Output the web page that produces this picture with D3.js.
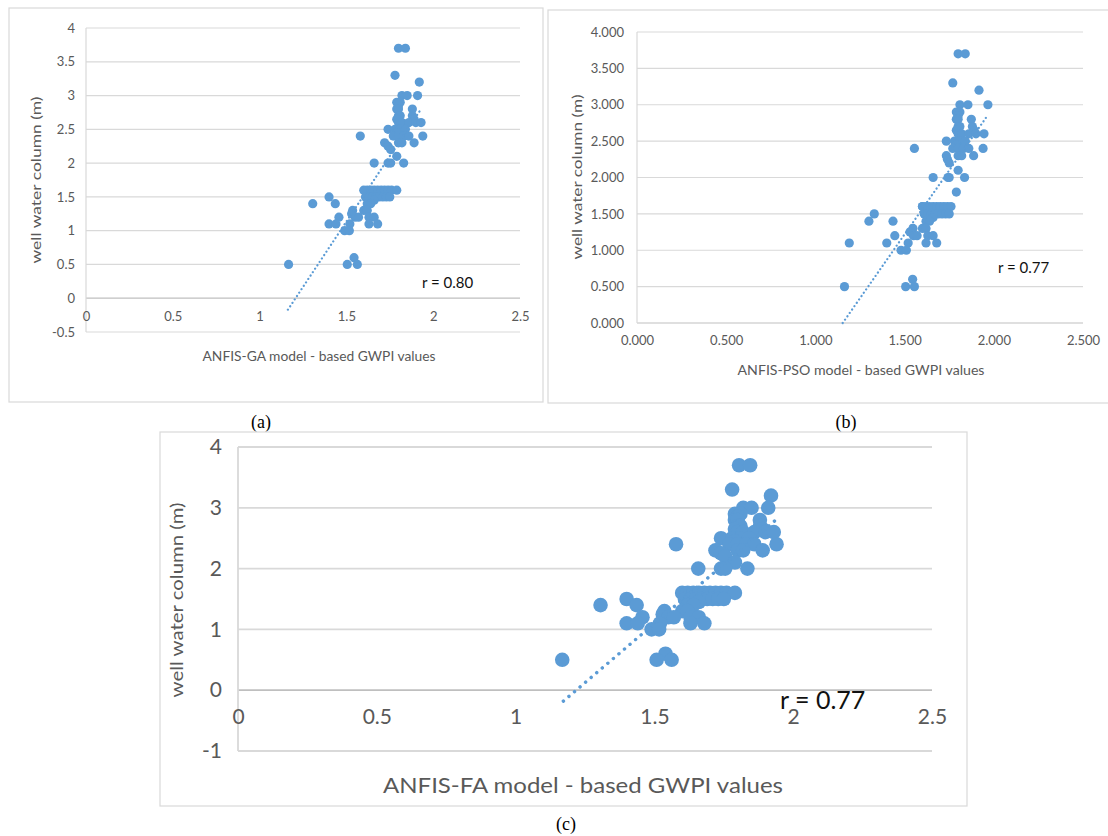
<!DOCTYPE html>
<html>
<head>
<meta charset="utf-8">
<script src="https://cdn.jsdelivr.net/npm/d3@7"></script>
<style>
  body { margin: 0; background: #fff; }
  svg text { font-family: Lato, "Open Sans", sans-serif; }
</style>
</head>
<body>
<svg id="fig" width="1108" height="836"></svg>
<script>
// GWPI value (x) vs well water column in m (y)
var gaPoints = [
  [1.80,3.7],[1.84,3.7],[1.78,3.3],[1.92,3.2],[1.82,3.0],[1.85,3.0],[1.91,3.0],
  [1.79,2.9],[1.81,2.9],[1.80,2.85],[1.79,2.8],[1.80,2.8],[1.88,2.8],
  [1.80,2.7],[1.81,2.7],[1.88,2.7],[1.79,2.65],[1.89,2.65],
  [1.80,2.6],[1.82,2.6],[1.86,2.6],[1.90,2.6],[1.93,2.6],
  [1.74,2.5],[1.78,2.5],[1.81,2.5],[1.84,2.5],[1.79,2.45],
  [1.58,2.4],[1.77,2.4],[1.80,2.4],[1.83,2.4],[1.86,2.4],[1.94,2.4],
  [1.72,2.3],[1.80,2.3],[1.82,2.3],[1.89,2.3],[1.74,2.25],[1.755,2.2],[1.79,2.1],
  [1.66,2.0],[1.74,2.0],[1.755,2.0],[1.83,2.0],
  [1.60,1.6],[1.62,1.6],[1.64,1.6],[1.66,1.6],[1.68,1.6],[1.70,1.6],[1.72,1.6],[1.74,1.6],[1.76,1.6],[1.79,1.6],
  [1.40,1.5],[1.61,1.5],[1.63,1.5],[1.65,1.5],[1.67,1.5],[1.69,1.5],[1.71,1.5],[1.73,1.5],[1.75,1.5],
  [1.66,1.45],[1.306,1.4],[1.436,1.4],[1.62,1.4],[1.64,1.4],
  [1.536,1.3],[1.60,1.3],[1.62,1.3],[1.53,1.25],
  [1.457,1.2],[1.55,1.2],[1.57,1.2],[1.63,1.2],[1.66,1.2],
  [1.40,1.1],[1.44,1.1],[1.52,1.1],[1.63,1.1],[1.68,1.1],
  [1.49,1.0],[1.517,1.0],[1.544,0.6],[1.167,0.5],[1.505,0.5],[1.563,0.5]
];
var psoPoints = [
  [1.80,3.7],[1.84,3.7],[1.77,3.3],[1.917,3.2],[1.81,3.0],[1.855,3.0],[1.967,3.0],
  [1.79,2.9],[1.81,2.9],[1.80,2.85],[1.79,2.8],[1.80,2.8],[1.874,2.8],
  [1.80,2.7],[1.81,2.7],[1.88,2.7],[1.79,2.65],[1.89,2.65],
  [1.80,2.6],[1.82,2.6],[1.86,2.6],[1.90,2.6],[1.945,2.6],
  [1.734,2.5],[1.78,2.5],[1.81,2.5],[1.84,2.5],[1.79,2.45],
  [1.555,2.4],[1.77,2.4],[1.80,2.4],[1.83,2.4],[1.86,2.4],[1.94,2.4],
  [1.734,2.3],[1.80,2.3],[1.82,2.3],[1.887,2.3],[1.74,2.25],[1.75,2.2],[1.80,2.1],
  [1.66,2.0],[1.743,2.0],[1.75,2.0],[1.836,2.0],[1.79,1.8],
  [1.60,1.6],[1.62,1.6],[1.64,1.6],[1.66,1.6],[1.68,1.6],[1.70,1.6],[1.72,1.6],[1.74,1.6],[1.76,1.6],[1.60,1.6],
  [1.33,1.5],[1.61,1.5],[1.63,1.5],[1.65,1.5],[1.67,1.5],[1.69,1.5],[1.71,1.5],[1.73,1.5],[1.75,1.5],
  [1.66,1.45],[1.30,1.4],[1.435,1.4],[1.62,1.4],[1.64,1.4],
  [1.547,1.3],[1.60,1.3],[1.62,1.3],[1.53,1.25],
  [1.445,1.2],[1.55,1.2],[1.57,1.2],[1.63,1.2],[1.66,1.2],
  [1.19,1.1],[1.40,1.1],[1.52,1.1],[1.62,1.1],[1.68,1.1],
  [1.48,1.0],[1.51,1.0],[1.545,0.6],[1.163,0.5],[1.506,0.5],[1.555,0.5]
];
var faPoints = [
  [1.805,3.7],[1.845,3.7],[1.78,3.3],[1.92,3.2],[1.82,3.0],[1.85,3.0],[1.91,3.0],
  [1.79,2.9],[1.81,2.9],[1.80,2.85],[1.79,2.8],[1.80,2.8],[1.88,2.8],
  [1.80,2.7],[1.81,2.7],[1.88,2.7],[1.79,2.65],[1.89,2.65],
  [1.80,2.6],[1.82,2.6],[1.86,2.6],[1.90,2.6],[1.93,2.6],
  [1.74,2.5],[1.78,2.5],[1.81,2.5],[1.84,2.5],[1.79,2.45],
  [1.578,2.4],[1.77,2.4],[1.80,2.4],[1.83,2.4],[1.86,2.4],[1.94,2.4],
  [1.72,2.3],[1.80,2.3],[1.82,2.3],[1.89,2.3],[1.74,2.25],[1.755,2.2],[1.79,2.1],
  [1.658,2.0],[1.74,2.0],[1.755,2.0],[1.835,2.0],
  [1.60,1.6],[1.62,1.6],[1.64,1.6],[1.66,1.6],[1.68,1.6],[1.70,1.6],[1.72,1.6],[1.74,1.6],[1.76,1.6],[1.79,1.6],
  [1.40,1.5],[1.61,1.5],[1.63,1.5],[1.65,1.5],[1.67,1.5],[1.69,1.5],[1.71,1.5],[1.73,1.5],[1.75,1.5],
  [1.66,1.45],[1.306,1.4],[1.436,1.4],[1.62,1.4],[1.64,1.4],
  [1.536,1.3],[1.60,1.3],[1.62,1.3],[1.53,1.25],
  [1.457,1.2],[1.55,1.2],[1.57,1.2],[1.63,1.2],[1.66,1.2],
  [1.40,1.1],[1.44,1.1],[1.52,1.1],[1.63,1.1],[1.68,1.1],
  [1.49,1.0],[1.517,1.0],[1.54,0.6],[1.168,0.5],[1.508,0.5],[1.562,0.5]
];

// linear trendline end points (x, y)
var gaTrend = [[1.163,-0.17],[1.93,2.8]];
var psoTrend = [[1.153,0],[1.967,2.86]];
var faTrend = [[1.172,-0.18],[1.945,2.83]];

var xTicks = [0, 0.5, 1, 1.5, 2, 2.5];
var gaYTicks = [-0.5, 0, 0.5, 1, 1.5, 2, 2.5, 3, 3.5, 4];
var psoYTicks = [0, 0.5, 1, 1.5, 2, 2.5, 3, 3.5, 4];
var faYTicks = [-1, 0, 1, 2, 3, 4];

var yTitle = "well water column (m)";
var rValues = ["r = 0.80", "r = 0.77", "r = 0.77"];
var xTitles = ["ANFIS-GA model - based GWPI values", "ANFIS-PSO model - based GWPI values", "ANFIS-FA model - based GWPI values"];
var panelLabels = ["(a)", "(b)", "(c)"];

var blue = "#5b9bd5";
var svg = d3.select("#fig");
// plain hyphen for negatives, like the spreadsheet labels
var loc = d3.formatLocale({ decimal: ".", thousands: ",", grouping: [3], currency: ["", ""], minus: "-" });

function drawPanel(p) {
    // outer chart frame
    svg.append("rect")
        .attr("x", p.frame[0]).attr("y", p.frame[1])
        .attr("width", p.frame[2] - p.frame[0]).attr("height", p.frame[3] - p.frame[1])
        .attr("fill", "#fff").attr("stroke", "#d9d9d9").attr("stroke-width", 1.2);

    var x = d3.scaleLinear().domain([0, 2.5]).range([p.left, p.right]);
    var y = d3.scaleLinear().domain(p.yDomain).range([p.bottom, p.top]);
    var g = svg.append("g");

    // horizontal gridlines
    g.selectAll(".grid").data(p.yTicks).enter().append("line")
        .attr("x1", p.left).attr("x2", p.right)
        .attr("y1", function (d) { return y(d); }).attr("y2", function (d) { return y(d); })
        .attr("stroke", function (d) { return d == 0 ? "#bfbfbf" : "#d9d9d9"; })
        .attr("stroke-width", p.gridW);

    // vertical axis line
    g.append("line")
        .attr("x1", x(0)).attr("x2", x(0)).attr("y1", p.top).attr("y2", p.bottom)
        .attr("stroke", "#d9d9d9").attr("stroke-width", p.gridW);

    // y tick labels
    var yAxis = d3.axisLeft(y).tickValues(p.yTicks).tickSize(0).tickPadding(p.yPad).tickFormat(p.fmt);
    var ya = g.append("g").attr("transform", "translate(" + p.left + ",0)").call(yAxis);
    ya.select(".domain").remove();
    ya.selectAll("text").attr("fill", "#595959").style("font-size", p.tickSize + "px")
        .style("font-family", "Lato, sans-serif");

    // x tick labels sit below the y = 0 line
    var xAxis = d3.axisBottom(x).tickValues(xTicks).tickSize(0).tickPadding(p.xPad).tickFormat(p.fmt);
    var xa = g.append("g").attr("transform", "translate(0," + y(0) + ")").call(xAxis);
    xa.select(".domain").remove();
    xa.selectAll("text").attr("fill", "#595959").style("font-size", p.tickSize + "px")
        .style("font-family", "Lato, sans-serif");

    // points
    g.selectAll(".pt").data(p.points).enter().append("circle")
        .attr("cx", function (d) { return x(d[0]); })
        .attr("cy", function (d) { return y(d[1]); })
        .attr("r", p.r)
        .attr("fill", blue);

    // dotted trendline
    g.append("path")
        .datum(p.trend)
        .attr("d", d3.line().x(function (d) { return x(d[0]); }).y(function (d) { return y(d[1]); }))
        .attr("fill", "none").attr("stroke", blue)
        .attr("stroke-width", p.trendW).attr("stroke-linecap", "round")
        .attr("stroke-dasharray", p.dash);

    // titles
    g.append("text")
        .attr("x", p.xTitlePos[0]).attr("y", p.xTitlePos[1])
        .attr("text-anchor", "middle").attr("fill", "#595959")
        .style("font-size", p.titleSize + "px")
        .attr("textLength", p.xTitleLen).attr("lengthAdjust", "spacingAndGlyphs")
        .text(p.xTitle);

    g.append("text")
        .attr("transform", "translate(" + p.yTitlePos[0] + "," + p.yTitlePos[1] + ") rotate(-90)")
        .attr("text-anchor", "middle").attr("fill", "#595959")
        .style("font-size", p.yTitleSize + "px")
        .attr("textLength", p.yTitleLen).attr("lengthAdjust", "spacingAndGlyphs")
        .text(yTitle);

    g.append("text")
        .attr("x", p.rPos[0]).attr("y", p.rPos[1])
        .attr("fill", "#111")
        .style("font-size", p.rSize + "px")
        .text(p.rText);

    svg.append("text")
        .attr("x", p.labelPos[0]).attr("y", p.labelPos[1])
        .attr("text-anchor", "middle").attr("fill", "#000")
        .style("font-family", "'Liberation Serif', 'Times New Roman', serif")
        .style("font-size", "18px")
        .text(p.label);
}

drawPanel({
    frame: [9, 8, 543, 402], left: 86, right: 520, top: 28, bottom: 332,
    yDomain: [-0.5, 4], yTicks: gaYTicks, fmt: loc.format("~g"),
    yPad: 11, xPad: 14, tickSize: 13, gridW: 1.2,
    points: gaPoints, r: 4.6, trend: gaTrend, trendW: 2.2, dash: "0.1 4",
    xTitle: xTitles[0], xTitlePos: [319, 361], xTitleLen: 233, titleSize: 13.5,
    yTitlePos: [41, 180], yTitleLen: 167, yTitleSize: 13.5,
    rText: rValues[0], rPos: [422, 288], rSize: 15,
    label: panelLabels[0], labelPos: [261, 428]
});

drawPanel({
    frame: [548, 10, 1112, 403], left: 637, right: 1083, top: 32, bottom: 323,
    yDomain: [0, 4], yTicks: psoYTicks, fmt: loc.format(".3f"),
    yPad: 13, xPad: 13, tickSize: 13, gridW: 1.2,
    points: psoPoints, r: 4.6, trend: psoTrend, trendW: 2.2, dash: "0.1 4",
    xTitle: xTitles[1], xTitlePos: [861, 375], xTitleLen: 247, titleSize: 13.5,
    yTitlePos: [582, 177], yTitleLen: 165, yTitleSize: 13.5,
    rText: rValues[1], rPos: [998, 273], rSize: 15,
    label: panelLabels[1], labelPos: [846, 428]
});

drawPanel({
    frame: [160, 432, 967, 806], left: 238, right: 932, top: 447, bottom: 751,
    yDomain: [-1, 4], yTicks: faYTicks, fmt: loc.format("~g"),
    yPad: 16, xPad: 19, tickSize: 21, gridW: 1.8,
    points: faPoints, r: 7.3, trend: faTrend, trendW: 3.4, dash: "0.1 7.2",
    xTitle: xTitles[2], xTitlePos: [583, 793], xTitleLen: 400, titleSize: 21,
    yTitlePos: [183, 600], yTitleLen: 195, yTitleSize: 17,
    rText: rValues[2], rPos: [780, 709], rSize: 25,
    label: panelLabels[2], labelPos: [566, 830]
});
</script>
</body>
</html>
